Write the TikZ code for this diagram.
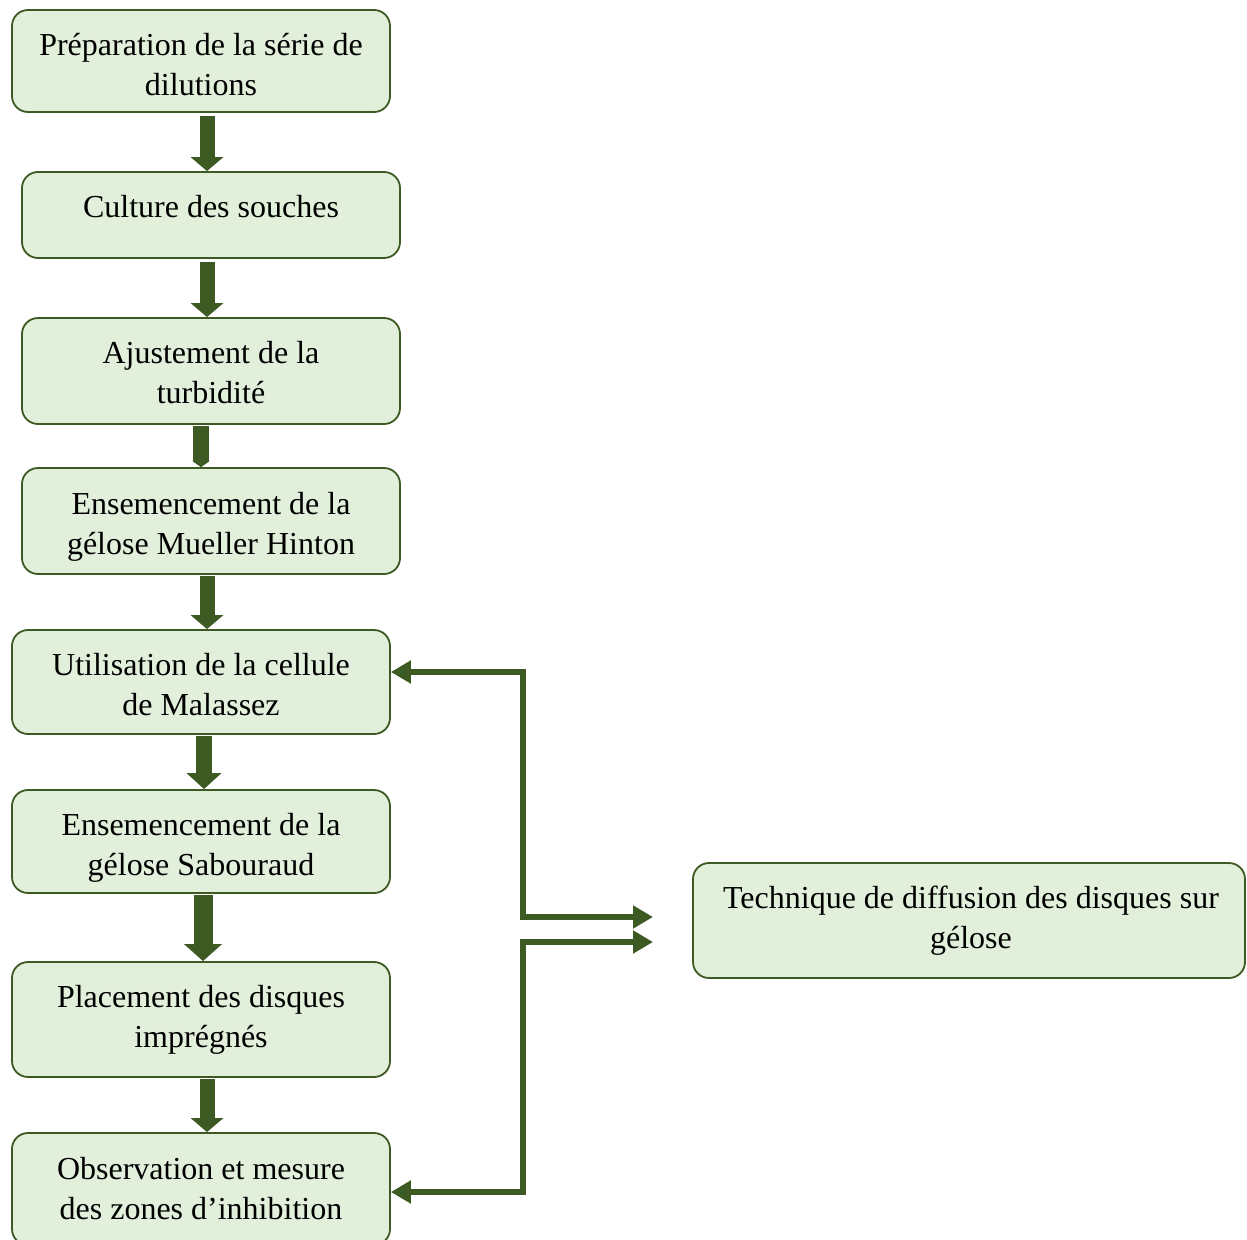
\documentclass[tikz,border=0pt]{standalone}
\usepackage{fontspec}
\setmainfont{Liberation Serif}
\usetikzlibrary{arrows.meta}
\definecolor{dg}{HTML}{3D5A23}
\definecolor{lg}{HTML}{E2EFDA}
\begin{document}
\begin{tikzpicture}[x=1pt,y=-1pt,
  box/.style={draw=dg, fill=lg, rounded corners=16pt, line width=1.8pt, inner sep=0pt, minimum width=378pt},
  txt/.style={align=center, font=\fontsize{32}{40}\selectfont, inner sep=0pt},
  blk/.style={draw=dg, line width=15pt, -{Triangle[width=32pt,length=14pt]}},
  link/.style={draw=dg, line width=5.5pt, {Triangle[width=22pt,length=20pt]}-{Triangle[width=22pt,length=20pt]}}]
\useasboundingbox (0,0) rectangle (1247,1239);
\node[box, minimum height=102pt] (b1) at (201,61) {};
\node[box, minimum height=86pt] (b2) at (211,215) {};
\node[box, minimum height=106pt] (b3) at (211,371) {};
\node[box, minimum height=106pt] (b4) at (211,521) {};
\node[box, minimum height=104pt] (b5) at (201,682) {};
\node[box, minimum height=103pt] (b6) at (201,841.5) {};
\node[box, minimum height=115pt] (b7) at (201,1019.5) {};
\node[box, minimum height=112pt] (b8) at (201,1189) {};
\node[box, minimum width=552pt, minimum height=115pt] (r) at (969,920.5) {};
\node[txt, yshift=-4pt] (t1) at (b1) {Préparation de la série de\\dilutions};
\node[txt, yshift=8pt] (t2) at (b2) {Culture des souches};
\node[txt, yshift=-2pt] (t3) at (b3) {Ajustement de la\\turbidité};
\node[txt, yshift=-6pt] (t4) at (b4) {Ensemencement de la\\gélose Mueller Hinton};
\node[txt, yshift=-3pt] (t5) at (b5) {Utilisation de la cellule\\de Malassez};
\node[txt, yshift=-6pt] (t6) at (b6) {Ensemencement de la\\gélose Sabouraud};
\node[txt] (t7) at (b7) {Placement des disques\\imprégnés};
\node[txt] (t8) at (b8) {Observation et mesure\\des zones d’inhibition};
\node[txt, xshift=2pt] (tr) at (r) {Technique de diffusion des disques sur\\gélose};
% block arrows
\draw[blk] ([xshift=6pt,yshift=-3pt]b1.south) -- ([xshift=-4pt]b2.north);
\draw[blk] ([xshift=-4pt,yshift=-3pt]b2.south) -- ([xshift=-4pt]b3.north);
\draw[blk, line width=16pt, -{Triangle[width=17pt,length=6pt]}] ([xshift=-10pt,yshift=-1pt]b3.south) -- ([xshift=-10pt]b4.north);
\draw[blk] ([xshift=-4pt,yshift=-1pt]b4.south) -- ([xshift=6pt]b5.north);
\draw[blk, line width=16pt, -{Triangle[width=34pt,length=16pt]}] ([xshift=3pt,yshift=-1pt]b5.south) -- ([xshift=3pt]b6.north);
\draw[blk, line width=19pt, -{Triangle[width=37pt,length=17pt]}] ([xshift=2pt,yshift=-1pt]b6.south) -- ([xshift=2pt]b7.north);
\draw[blk] ([xshift=6pt,yshift=-1pt]b7.south) -- ([xshift=6pt]b8.north);
% connectors
\coordinate (c1) at (653,917);
\coordinate (c2) at (653,942);
\draw[link] ([yshift=10pt]b5.east) -- ++(132,0) |- (c1);
\draw[link] ([yshift=-3pt]b8.east) -- ++(132,0) |- (c2);
\end{tikzpicture}
\end{document}
